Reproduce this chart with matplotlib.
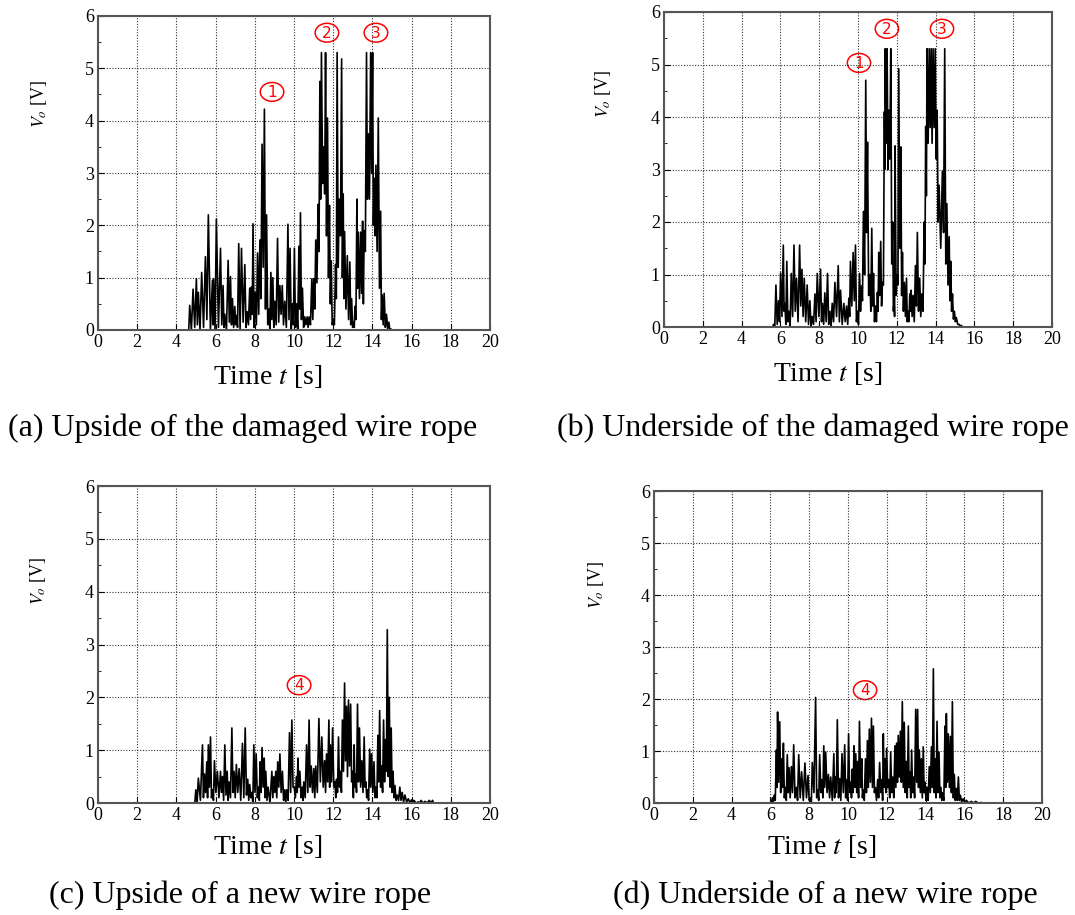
import numpy as np
import matplotlib
matplotlib.use("Agg")
import matplotlib.pyplot as plt
from matplotlib.patches import Ellipse

plt.rcParams['font.family'] = ['Liberation Serif', 'DejaVu Serif']
plt.rcParams['mathtext.fontset'] = 'stix'

# (a) upside, damaged rope: spike times [s], peak and following trough [V]
t_a = [4.68, 4.85, 5.02, 5.12, 5.29, 5.48, 5.63, 5.84, 5.90, 6.04,
       6.25, 6.38, 6.47, 6.64, 6.76, 6.86, 6.98, 7.06, 7.18, 7.32,
       7.49, 7.61, 7.74, 7.83, 7.91, 8.02, 8.14, 8.26, 8.37, 8.49,
       8.60, 8.72, 8.82, 8.92, 9.02, 9.16, 9.28, 9.40, 9.53, 9.69,
       9.80, 9.92, 10.02, 10.13, 10.25, 10.33, 10.43, 10.55, 10.67, 10.77,
       10.91, 11.01, 11.11, 11.23, 11.32, 11.40, 11.52, 11.61, 11.71, 11.81,
       11.90, 12.00, 12.12, 12.20, 12.31, 12.43, 12.51, 12.58, 12.72, 12.85,
       12.94, 13.04, 13.11, 13.21, 13.28, 13.40, 13.50, 13.58, 13.70, 13.79,
       13.91, 14.01, 14.09, 14.18, 14.30, 14.42, 14.50, 14.60, 14.72, 14.84,
       14.94]
peak_a = [0.47, 0.78, 0.98, 0.72, 1.10, 1.40, 2.20, 0.95, 0.98, 2.12,
          1.56, 0.85, 0.30, 1.33, 1.02, 0.60, 0.45, 0.28, 1.65, 1.56,
          1.25, 0.35, 0.80, 0.82, 2.03, 0.72, 1.47, 1.72, 3.55, 4.22,
          2.20, 0.40, 1.10, 1.00, 0.55, 1.75, 0.85, 0.85, 0.55, 2.02,
          1.56, 0.50, 1.56, 0.50, 1.60, 2.24, 0.80, 0.25, 0.25, 0.25,
          0.98, 0.98, 1.72, 2.40, 4.75, 5.30, 3.50, 5.30, 4.05, 2.38,
          1.32, 0.20, 1.25, 5.30, 2.50, 5.18, 2.60, 1.88, 1.42, 1.30,
          0.60, 0.15, 0.45, 2.50, 1.87, 1.87, 2.08, 1.90, 5.30, 3.75,
          5.30, 5.30, 2.90, 3.15, 4.05, 2.27, 0.67, 0.70, 0.30, 0.15,
          0.02]
trough_a = [0.00, 0.05, 0.10, 0.00, 0.05, 0.20, 0.00, 0.10, 0.00, 0.05,
            0.10, 0.05, 0.00, 0.15, 0.10, 0.05, 0.10, 0.05, 0.00, 0.15,
            0.05, 0.10, 0.20, 0.30, 0.05, 0.10, 0.30, 0.60, 1.20, 0.40,
            0.10, 0.00, 0.20, 0.05, 0.10, 0.15, 0.30, 0.10, 0.05, 0.20,
            0.00, 0.10, 0.05, 0.00, 0.40, 0.20, 0.05, 0.10, 0.05, 0.10,
            0.20, 0.40, 0.90, 1.50, 2.50, 2.80, 2.60, 1.80, 1.00, 0.50,
            0.10, 0.10, 0.60, 1.20, 1.80, 1.00, 0.60, 0.40, 0.20, 0.10,
            0.05, 0.05, 0.20, 0.80, 0.60, 0.70, 0.50, 1.50, 2.50, 2.50,
            3.00, 2.00, 1.80, 1.50, 0.80, 0.20, 0.10, 0.05, 0.02, 0.00,
            0.00]

# (b) underside, damaged rope
t_b = [5.65, 5.77, 5.90, 6.01, 6.15, 6.23, 6.33, 6.44, 6.56, 6.70,
       6.83, 6.99, 7.11, 7.23, 7.38, 7.52, 7.64, 7.78, 7.90, 8.07,
       8.17, 8.29, 8.43, 8.55, 8.67, 8.81, 8.98, 9.10, 9.27, 9.41,
       9.53, 9.61, 9.75, 9.87, 9.97, 10.08, 10.18, 10.28, 10.40, 10.49,
       10.61, 10.71, 10.80, 10.90, 11.00, 11.07, 11.17, 11.26, 11.36, 11.40,
       11.50, 11.59, 11.69, 11.79, 11.86, 11.91, 12.02, 12.10, 12.21, 12.29,
       12.39, 12.50, 12.58, 12.67, 12.74, 12.84, 12.96, 13.06, 13.18, 13.29,
       13.41, 13.49, 13.56, 13.67, 13.77, 13.87, 13.98, 14.08, 14.18, 14.35,
       14.47, 14.58, 14.70, 14.78, 14.87, 14.97, 15.07, 15.21, 15.33]
peak_b = [0.05, 0.80, 0.50, 1.03, 1.56, 0.45, 1.25, 0.30, 1.02, 1.56,
          0.93, 1.56, 1.10, 0.93, 0.80, 0.50, 0.20, 0.63, 1.02, 1.10,
          0.45, 0.65, 1.02, 0.30, 0.45, 0.85, 1.17, 0.70, 0.45, 0.40,
          0.55, 1.25, 1.42, 1.56, 0.30, 1.02, 0.78, 2.20, 4.70, 3.52,
          1.00, 1.88, 1.02, 0.40, 0.66, 1.42, 1.63, 0.85, 4.10, 5.30,
          5.30, 4.13, 5.30, 2.00, 0.50, 3.45, 1.00, 4.92, 3.43, 1.42,
          0.85, 0.93, 0.30, 0.63, 0.70, 0.60, 1.17, 1.80, 0.93, 0.63,
          2.00, 3.82, 5.30, 5.30, 5.30, 5.30, 5.30, 4.13, 2.70, 2.97,
          5.30, 2.35, 1.72, 1.25, 0.63, 0.30, 0.18, 0.05, 0.03]
trough_b = [0.00, 0.05, 0.10, 0.20, 0.30, 0.05, 0.10, 0.00, 0.20, 0.30,
            0.10, 0.40, 0.20, 0.10, 0.05, 0.00, 0.05, 0.10, 0.20, 0.10,
            0.05, 0.10, 0.05, 0.00, 0.10, 0.20, 0.10, 0.05, 0.10, 0.05,
            0.20, 0.40, 0.50, 0.10, 0.05, 0.30, 0.50, 1.00, 1.80, 0.60,
            0.30, 0.40, 0.10, 0.10, 0.30, 0.60, 0.40, 0.80, 3.00, 3.50,
            3.00, 3.20, 1.20, 0.30, 0.20, 0.60, 0.80, 1.50, 0.60, 0.30,
            0.20, 0.10, 0.10, 0.30, 0.20, 0.10, 0.40, 0.30, 0.20, 0.30,
            1.20, 2.50, 3.50, 3.80, 3.50, 3.80, 3.20, 2.00, 1.50, 1.80,
            1.20, 0.80, 0.50, 0.30, 0.15, 0.10, 0.05, 0.02, 0.00]

# (c) upside, new rope
t_c = [4.99, 5.12, 5.33, 5.43, 5.55, 5.63, 5.74, 5.84, 5.94, 6.09,
       6.25, 6.35, 6.47, 6.59, 6.69, 6.83, 6.94, 7.06, 7.20, 7.37,
       7.51, 7.64, 7.74, 7.85, 7.95, 8.07, 8.19, 8.27, 8.37, 8.48,
       8.56, 8.68, 8.87, 8.97, 9.07, 9.17, 9.28, 9.41, 9.53, 9.63,
       9.77, 9.89, 10.01, 10.13, 10.20, 10.30, 10.42, 10.50, 10.64, 10.77,
       10.88, 11.01, 11.11, 11.27, 11.42, 11.56, 11.66, 11.78, 11.86, 11.97,
       12.09, 12.17, 12.27, 12.37, 12.47, 12.58, 12.68, 12.78, 12.89, 12.99,
       13.07, 13.14, 13.24, 13.34, 13.46, 13.58, 13.67, 13.75, 13.86, 13.96,
       14.08, 14.18, 14.28, 14.37, 14.47, 14.57, 14.67, 14.76, 14.86, 14.96,
       15.05, 15.15, 15.27, 15.40, 15.52, 15.66, 15.83, 16.00, 16.12, 16.34,
       16.48, 16.68, 16.90, 17.07]
peak_c = [0.25, 0.47, 1.10, 0.55, 0.78, 1.10, 1.25, 0.25, 0.80, 0.60,
          0.60, 0.50, 1.10, 0.60, 0.40, 1.42, 0.60, 0.73, 0.65, 1.13,
          1.42, 0.45, 0.35, 0.20, 1.10, 0.93, 0.30, 0.78, 1.05, 0.85,
          0.60, 0.30, 0.60, 0.50, 0.60, 0.78, 0.93, 0.60, 0.25, 0.25,
          1.33, 1.57, 0.30, 0.50, 0.85, 0.60, 0.30, 0.40, 1.10, 1.57,
          0.70, 0.65, 0.70, 1.60, 1.25, 0.80, 0.93, 1.57, 1.10, 1.42,
          0.40, 0.45, 1.25, 0.60, 1.57, 2.27, 1.83, 1.95, 1.87, 0.60,
          1.10, 0.55, 1.87, 1.42, 0.80, 1.25, 0.40, 0.25, 1.02, 0.93,
          0.78, 0.30, 1.28, 1.75, 0.70, 1.57, 1.20, 3.28, 2.00, 1.42,
          0.60, 0.33, 0.15, 0.30, 0.20, 0.15, 0.08, 0.06, 0.05, 0.02,
          0.05, 0.03, 0.05, 0.05]
trough_c = [0.00, 0.05, 0.10, 0.20, 0.10, 0.30, 0.10, 0.05, 0.20, 0.10,
            0.20, 0.05, 0.15, 0.05, 0.10, 0.20, 0.10, 0.20, 0.05, 0.10,
            0.15, 0.05, 0.10, 0.00, 0.20, 0.10, 0.05, 0.20, 0.30, 0.10,
            0.05, 0.00, 0.10, 0.20, 0.10, 0.30, 0.20, 0.05, 0.00, 0.05,
            0.20, 0.30, 0.10, 0.20, 0.30, 0.10, 0.05, 0.10, 0.20, 0.30,
            0.20, 0.10, 0.20, 0.40, 0.30, 0.20, 0.40, 0.30, 0.40, 0.30,
            0.10, 0.20, 0.30, 0.20, 0.60, 0.80, 0.50, 0.70, 0.40, 0.10,
            0.30, 0.20, 0.40, 0.30, 0.20, 0.30, 0.10, 0.05, 0.30, 0.20,
            0.10, 0.10, 0.40, 0.30, 0.20, 0.40, 0.60, 0.50, 0.30, 0.20,
            0.10, 0.05, 0.05, 0.05, 0.02, 0.02, 0.01, 0.00, 0.00, 0.00,
            0.00, 0.00, 0.00, 0.00]

# (d) underside, new rope
t_d = [6.10, 6.19, 6.31, 6.37, 6.48, 6.58, 6.67, 6.77, 6.87, 6.96,
       7.08, 7.20, 7.34, 7.46, 7.61, 7.78, 7.94, 8.06, 8.16, 8.33,
       8.44, 8.54, 8.66, 8.75, 8.85, 8.99, 9.11, 9.27, 9.35, 9.45,
       9.57, 9.69, 9.83, 9.93, 10.03, 10.14, 10.22, 10.31, 10.40, 10.50,
       10.59, 10.71, 10.78, 10.90, 11.00, 11.10, 11.21, 11.31, 11.41, 11.53,
       11.63, 11.75, 11.82, 11.91, 11.99, 12.10, 12.20, 12.30, 12.42, 12.51,
       12.59, 12.70, 12.80, 12.90, 13.00, 13.11, 13.19, 13.28, 13.38, 13.49,
       13.59, 13.68, 13.78, 13.88, 13.97, 14.07, 14.19, 14.30, 14.40, 14.49,
       14.59, 14.69, 14.79, 14.88, 15.00, 15.07, 15.17, 15.28, 15.38, 15.48,
       15.58, 15.69, 15.79, 15.93, 16.10, 16.36, 16.58, 16.87]
peak_d = [0.10, 0.15, 1.02, 1.75, 1.56, 0.85, 1.15, 0.30, 0.93, 0.68,
          0.70, 1.12, 0.30, 0.93, 0.60, 0.77, 0.53, 0.10, 0.78, 2.03,
          0.25, 0.93, 0.45, 1.10, 0.98, 0.55, 0.50, 0.95, 0.50, 1.60,
          0.47, 0.95, 1.12, 0.45, 1.33, 0.40, 0.65, 1.10, 0.95, 0.80,
          1.57, 0.85, 0.25, 0.85, 1.20, 1.42, 1.63, 1.48, 0.30, 0.45,
          0.78, 0.45, 1.33, 0.85, 1.05, 0.45, 0.98, 0.50, 1.10, 1.15,
          1.30, 1.38, 1.95, 1.55, 0.80, 1.48, 0.60, 1.02, 0.50, 1.80,
          1.80, 1.02, 0.85, 1.08, 0.40, 0.30, 0.70, 1.08, 2.58, 0.85,
          1.57, 0.98, 0.30, 0.20, 1.48, 1.72, 1.33, 1.28, 1.95, 0.55,
          0.28, 0.50, 0.15, 0.08, 0.05, 0.03, 0.03, 0.01]
trough_d = [0.00, 0.05, 0.30, 0.40, 0.20, 0.30, 0.10, 0.05, 0.20, 0.10,
            0.20, 0.10, 0.05, 0.10, 0.05, 0.10, 0.05, 0.00, 0.20, 0.10,
            0.05, 0.20, 0.10, 0.30, 0.20, 0.10, 0.05, 0.10, 0.20, 0.10,
            0.05, 0.20, 0.10, 0.05, 0.20, 0.10, 0.20, 0.30, 0.20, 0.10,
            0.30, 0.10, 0.05, 0.20, 0.30, 0.40, 0.30, 0.20, 0.05, 0.10,
            0.20, 0.05, 0.30, 0.20, 0.30, 0.10, 0.20, 0.10, 0.30, 0.40,
            0.50, 0.40, 0.30, 0.20, 0.10, 0.30, 0.10, 0.20, 0.10, 0.40,
            0.30, 0.20, 0.10, 0.20, 0.05, 0.05, 0.20, 0.30, 0.20, 0.10,
            0.20, 0.10, 0.05, 0.05, 0.30, 0.40, 0.30, 0.20, 0.10, 0.05,
            0.05, 0.05, 0.02, 0.01, 0.00, 0.00, 0.00, 0.00]

captions = ["(a) Upside of the damaged wire rope",
            "(b) Underside of the damaged wire rope",
            "(c) Upside of a new wire rope",
            "(d) Underside of a new wire rope"]

# circled markers (label, t, V)
marks_a = [("1", 8.88, 4.55), ("2", 11.68, 5.68), ("3", 14.18, 5.68)]
marks_b = [("1", 10.05, 5.03), ("2", 11.49, 5.68), ("3", 14.33, 5.68)]
marks_c = [("4", 10.26, 2.23)]
marks_d = [("4", 10.88, 2.17)]


def signal(times, peaks, troughs):
    tt = np.asarray(times)
    mid = np.append((tt[:-1] + tt[1:]) / 2, tt[-1] + 0.05)
    x = np.column_stack([tt, mid]).ravel()
    y = np.column_stack([peaks, troughs]).ravel()
    x = np.concatenate([[0.0, tt[0] - 0.05], x, [20.0]])
    y = np.concatenate([[0.0, 0.0], y, [0.0]])
    return x, y


fig = plt.figure(figsize=(10.75, 9.15), dpi=100)

# pixel boxes: left, top, right, bottom
boxes = [(98, 16, 490, 330), (664, 12, 1052, 327),
         (98, 486, 490, 803), (654, 491, 1042, 803)]
series = [(t_a, peak_a, trough_a), (t_b, peak_b, trough_b),
          (t_c, peak_c, trough_c), (t_d, peak_d, trough_d)]
marks = [marks_a, marks_b, marks_c, marks_d]
ylab_pos = [(-0.125, 0.72), (-0.131, 0.74), (-0.128, 0.70), (-0.124, 0.70)]
xlab_pos = [(0.434, -0.105), (0.423, -0.105), (0.434, -0.095), (0.433, -0.096)]
cap_pos = [(243, 428), (813, 428), (240, 895), (825, 895)]

for i in range(4):
    l, t, r, b = boxes[i]
    ax = fig.add_axes([l / 1075, 1 - b / 915, (r - l) / 1075, (b - t) / 915])
    x, y = signal(*series[i])
    ax.plot(x, y, color='black', lw=1.2)
    ax.set_xlim(0, 20)
    ax.set_ylim(0, 6)
    ax.set_xticks(np.arange(0, 21, 2))
    ax.set_yticks(np.arange(0, 7, 1))
    ax.set_yticks(np.arange(0, 6.01, 0.5), minor=True)
    ax.grid(True, which='major', ls=(0, (1, 1.5)), color='#333333', lw=0.8)
    ax.tick_params(direction='in', length=4, labelsize=13, pad=3)
    ax.tick_params(which='minor', direction='in', length=2)
    for s in ax.spines.values():
        s.set_color('#555555')
        s.set_linewidth(1.5)
    ax.set_ylabel("$V_o$ [V]", fontsize=13)
    ax.yaxis.set_label_coords(*ylab_pos[i])
    ax.set_xlabel("Time $t$ [s]", fontsize=20)
    ax.xaxis.set_label_coords(*xlab_pos[i])
    for lab, mt, mv in marks[i]:
        ax.add_patch(Ellipse((mt, mv), 1.2, 0.36, fc='none', ec='red', lw=1.1))
        ax.text(mt, mv - 0.01, lab, color='red', fontsize=11, ha='center',
                va='center', family='DejaVu Sans')
    fig.text(cap_pos[i][0] / 1075, 1 - cap_pos[i][1] / 915, captions[i],
             fontsize=23, ha='center', va='center')

fig.savefig("out.png", dpi=100)
